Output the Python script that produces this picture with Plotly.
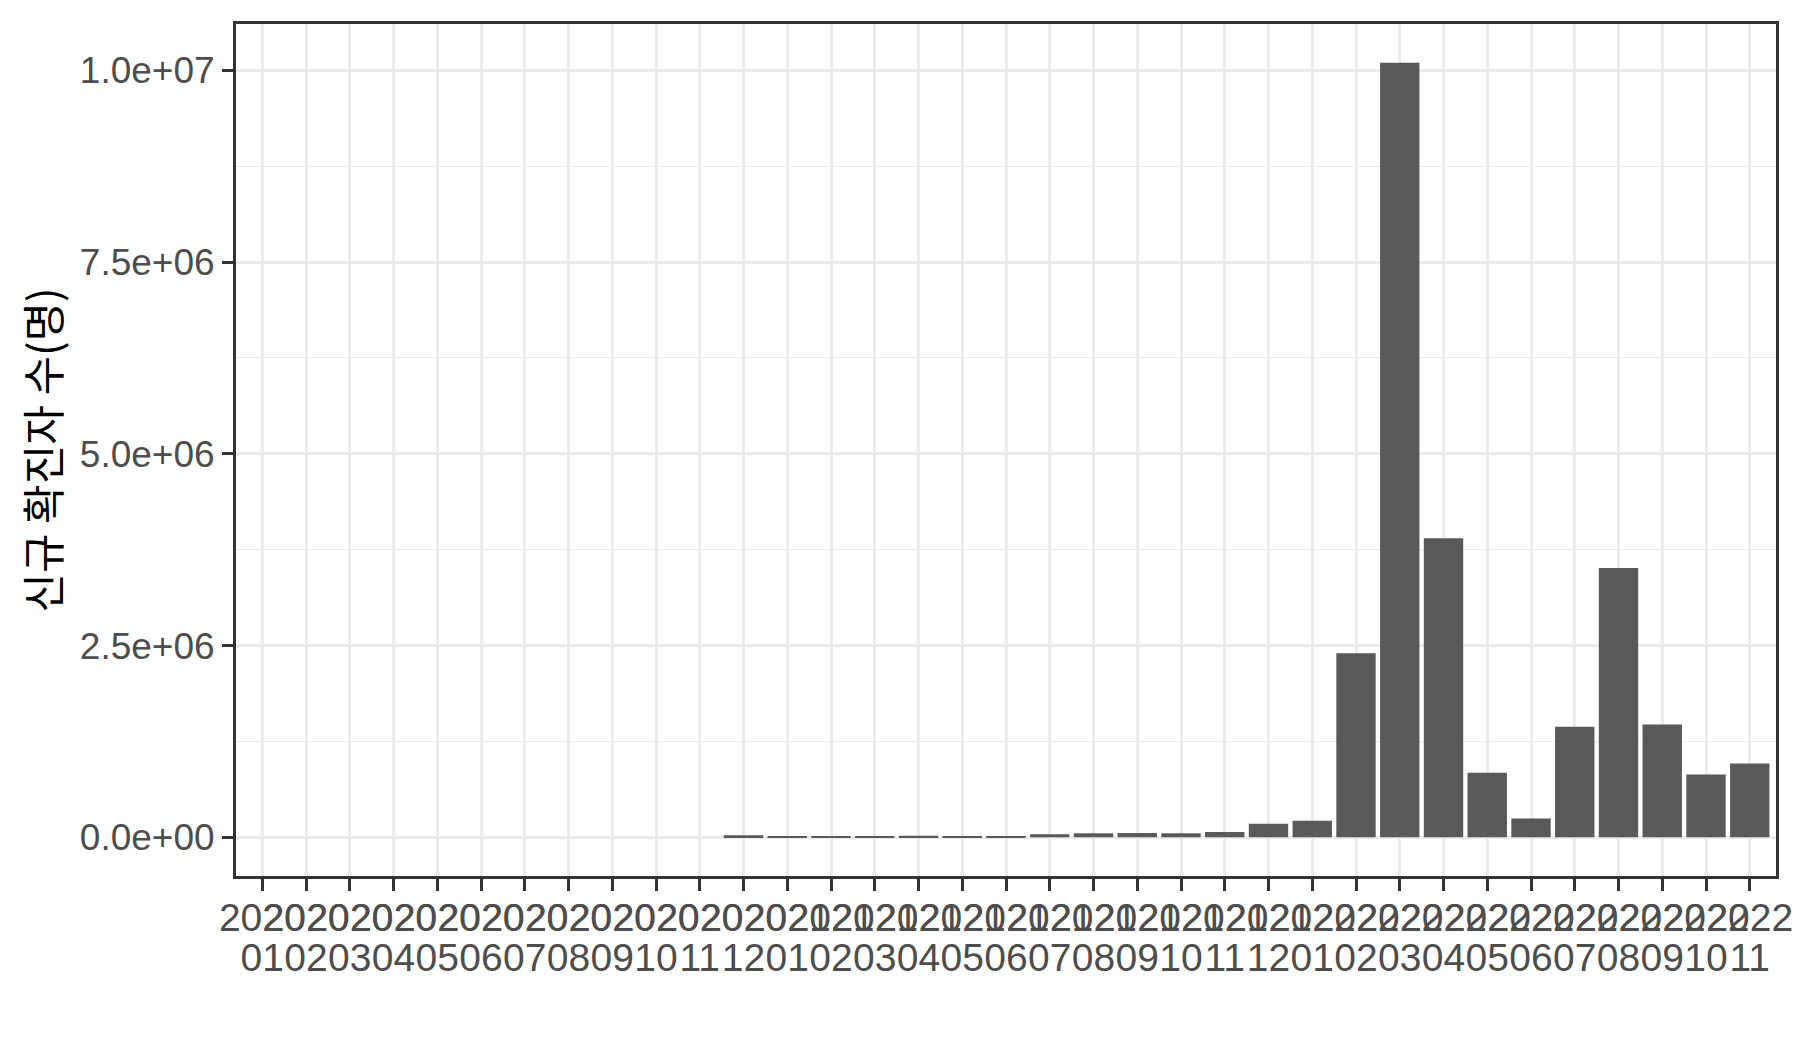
import plotly.graph_objects as go

years = ["2020"] * 12 + ["2021"] * 12 + ["2022"] * 11
months = [f"{m:02d}" for m in range(1, 13)] * 2 + [f"{m:02d}" for m in range(1, 12)]
categories = [f"{y}-{m}" for y, m in zip(years, months)]

new_cases = [
    0, 0, 0, 0, 0, 0, 0, 0, 0, 0, 0, 26000,
    17500, 11500, 13400, 18900, 17700, 16600, 39000, 52000, 55000, 51000, 70000, 175000,
    215000, 2400000, 10100000, 3900000, 843000, 246000, 1440000, 3510000, 1470000, 820000, 963000,
]

y_tick_vals = [0, 2.5e6, 5e6, 7.5e6, 1e7]
y_tick_text = ["0.0e+00", "2.5e+06", "5.0e+06", "7.5e+06", "1.0e+07"]
y_minor_vals = [1.25e6, 3.75e6, 6.25e6, 8.75e6]
y_title = "신규 확진자 수(명)"

ymax = max(new_cases)
pad = 0.05 * ymax
xrange = [-0.6, len(categories) - 0.4]

TICK_FONT = "Liberation Sans, Arial, sans-serif"
TEXT_COL = "#4D4D4D"
DARK = "#333333"
GRID = "#EBEBEB"

fig = go.Figure()
fig.add_trace(
    go.Bar(
        x=categories,
        y=new_cases,
        marker=dict(color="#595959", line=dict(width=0)),
        width=0.9,
        xaxis="x",
        yaxis="y",
    )
)
# invisible trace carrying the month labels axis
fig.add_trace(
    go.Scatter(
        x=categories,
        y=[0] * len(categories),
        mode="markers",
        marker=dict(opacity=0),
        hoverinfo="skip",
        xaxis="x2",
        yaxis="y",
    )
)

fig.update_layout(
    width=1784,
    height=1034,
    margin=dict(l=228, r=16, t=16, b=166),
    paper_bgcolor="white",
    plot_bgcolor="white",
    showlegend=False,
    font=dict(family=TICK_FONT, color=TEXT_COL, size=35),
    xaxis=dict(
        type="category",
        categoryorder="array",
        categoryarray=categories,
        tickvals=categories,
        ticktext=years,
        range=xrange,
        automargin=False,
        showgrid=True,
        gridcolor=GRID,
        gridwidth=2.5,
        ticks="outside",
        ticklen=12,
        tickwidth=2.5,
        tickcolor=DARK,
        ticklabelstandoff=-7,
        tickfont=dict(size=39, color=TEXT_COL, family=TICK_FONT),
        tickangle=0,
        showline=True,
        linecolor=DARK,
        linewidth=3,
        mirror=True,
        zeroline=False,
    ),
    xaxis2=dict(
        type="category",
        categoryorder="array",
        categoryarray=categories,
        tickvals=categories,
        ticktext=months,
        range=xrange,
        overlaying="x",
        anchor="y",
        side="bottom",
        automargin=False,
        showgrid=False,
        ticks="",
        ticklabelstandoff=55,
        tickfont=dict(size=39, color=TEXT_COL, family=TICK_FONT),
        tickangle=0,
        showline=False,
        zeroline=False,
    ),
    yaxis=dict(
        range=[-pad, ymax + pad],
        tickvals=y_tick_vals,
        ticktext=y_tick_text,
        automargin=False,
        showgrid=True,
        gridcolor=GRID,
        gridwidth=2.5,
        minor=dict(tickvals=y_minor_vals, showgrid=True, gridcolor=GRID, gridwidth=1.3, ticks=""),
        ticks="outside",
        ticklen=11,
        tickwidth=2.5,
        tickcolor=DARK,
        tickfont=dict(size=37, color=TEXT_COL, family=TICK_FONT),
        showline=True,
        linecolor=DARK,
        linewidth=3,
        mirror=True,
        zeroline=False,
        title=dict(
            text=y_title,
            font=dict(family="Noto Sans CJK KR", size=43, color="black"),
            standoff=6,
        ),
    ),
)

fig.write_html("out.html")
